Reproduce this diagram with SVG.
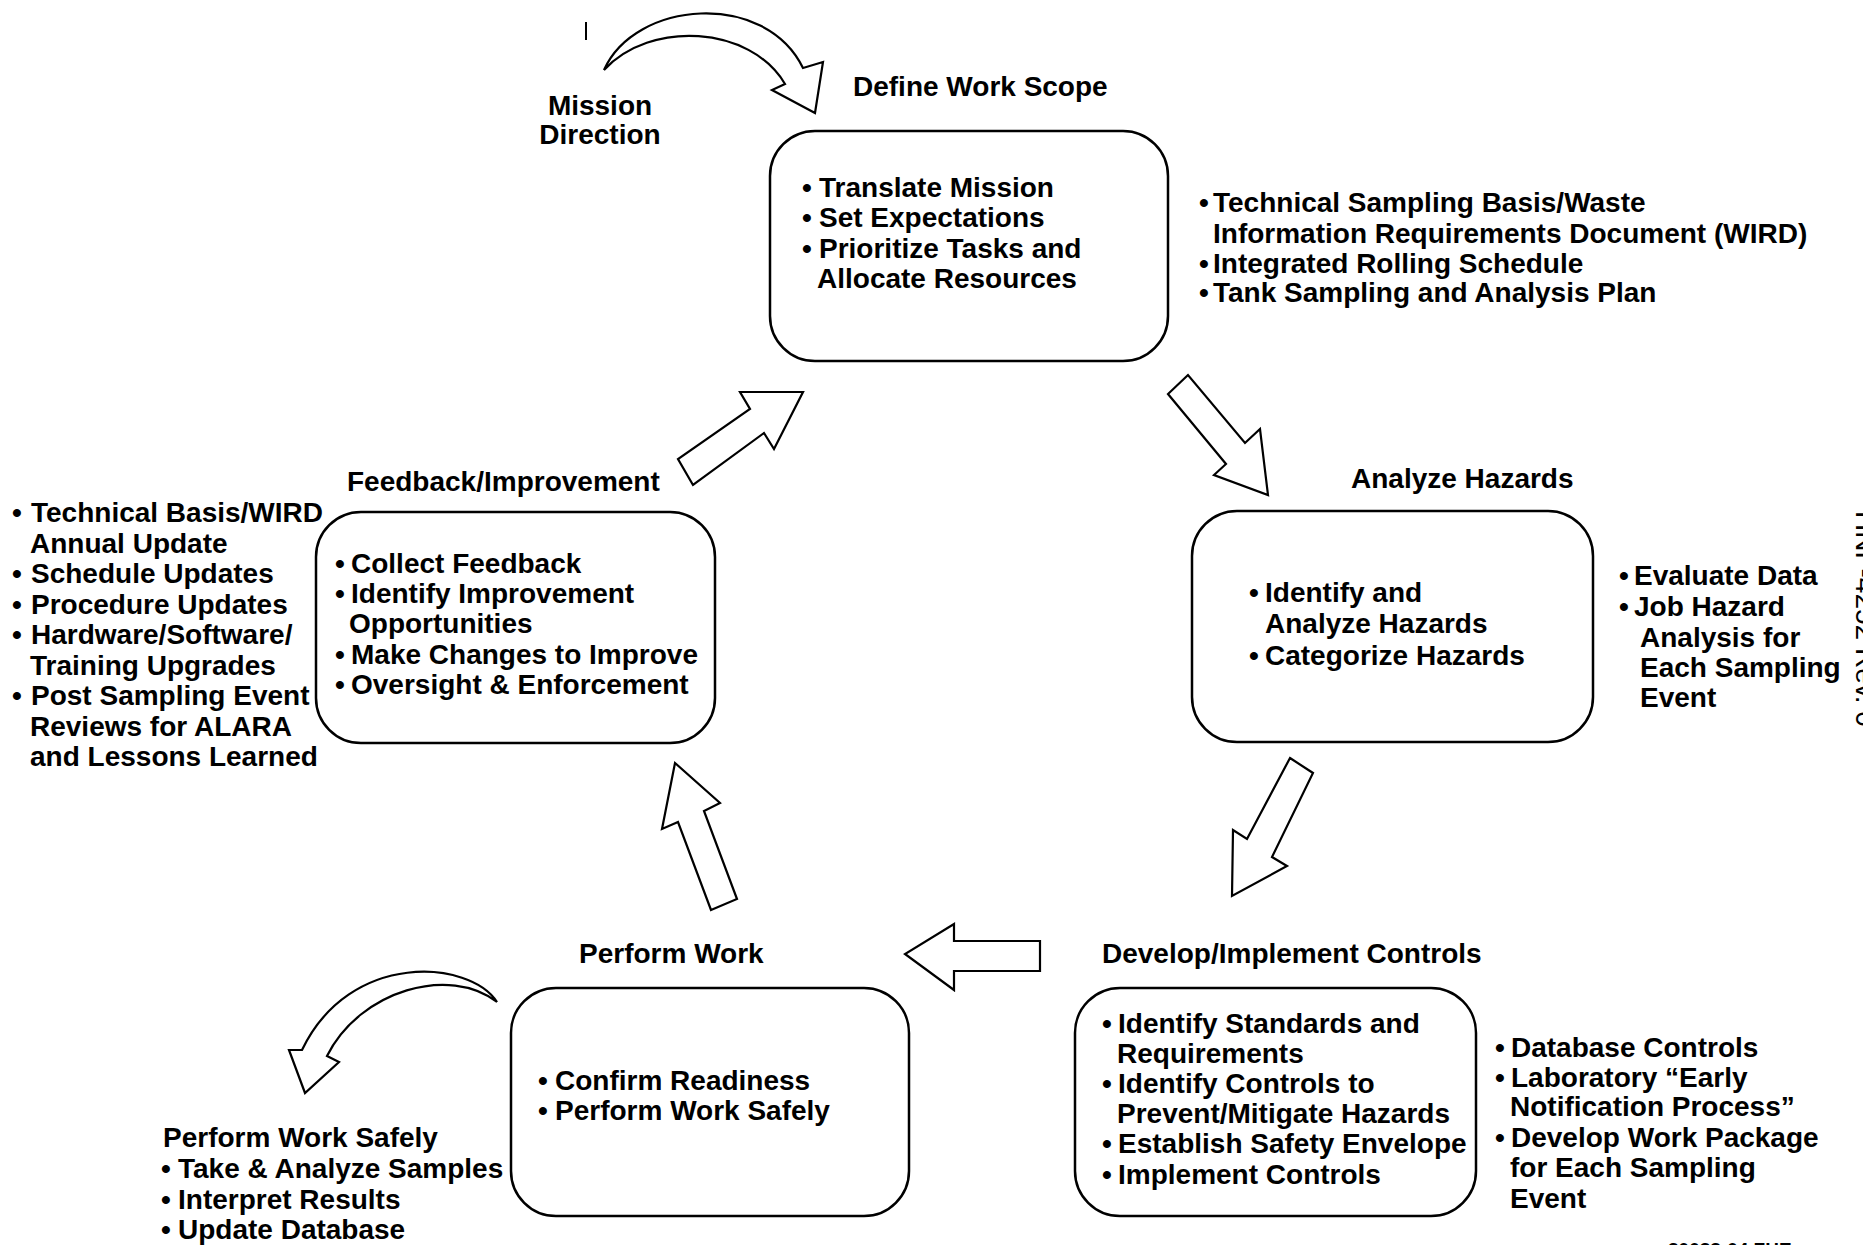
<svg xmlns="http://www.w3.org/2000/svg" width="1863" height="1245" viewBox="0 0 1863 1245">
<style>
text{font-family:"Liberation Sans",Arial,sans-serif;font-weight:bold;font-size:28px;fill:#000}
.box{fill:#fff;stroke:#000;stroke-width:2.5}
.arr{fill:#fff;stroke:#000;stroke-width:2.2;stroke-linejoin:miter}
.edge{font-weight:normal;font-size:28px}
.code{font-size:19px}
</style>
<rect width="1863" height="1245" fill="#fff"/>

<g id="connectors">
  <path class="arr" d="M604,70 C635,0 765,-10 803,68 L823,62 L815,113 L772,90 L785,84 C750,25 650,20 604,70 Z"/>
  <polygon class="arr" points="1188,375 1168,394 1226,464 1214,475 1268,495 1260,429 1245,443"/>
  <polygon class="arr" points="1290,758 1313,773 1272,857 1287,866 1232,896 1233,830 1247,839"/>
  <polygon class="arr" points="1040,941 954,941 954,924 905,954 954,990 954,971 1040,971"/>
  <polygon class="arr" points="711,910 737,899 704,811 720,803 675,763 662,829 678,822"/>
  <polygon class="arr" points="693,485 678,459 750,409 740,392 803,392 774,449 764,433"/>
  <path class="arr" d="M497,1002 C470,960 350,950 302,1050 L289,1050 L305,1093 L339,1062 L327,1056 C360,990 450,965 497,1002 Z"/>
  <line x1="586" y1="22" x2="586" y2="40" stroke="#000" stroke-width="2"/>
</g>

<g id="mission">
  <text x="600" y="115" text-anchor="middle">Mission</text>
  <text x="600" y="144" text-anchor="middle">Direction</text>
</g>

<g id="define-work-scope">
  <text x="853" y="96">Define Work Scope</text>
  <rect class="box" x="770" y="131" width="398" height="230" rx="45"/>
  <text><tspan x="802" y="197">•</tspan><tspan x="819" y="197">Translate Mission</tspan></text>
  <text><tspan x="802" y="227">•</tspan><tspan x="819" y="227">Set Expectations</tspan></text>
  <text><tspan x="802" y="258">•</tspan><tspan x="819" y="258">Prioritize Tasks and</tspan></text>
  <text x="817" y="288">Allocate Resources</text>
</g>

<g id="define-notes">
  <text><tspan x="1199" y="212">•</tspan><tspan x="1213" y="212">Technical Sampling Basis/Waste</tspan></text>
  <text x="1213" y="243">Information Requirements Document (WIRD)</text>
  <text><tspan x="1199" y="273">•</tspan><tspan x="1213" y="273">Integrated Rolling Schedule</tspan></text>
  <text><tspan x="1199" y="302">•</tspan><tspan x="1213" y="302">Tank Sampling and Analysis Plan</tspan></text>
</g>

<g id="analyze-hazards">
  <text x="1351" y="488">Analyze Hazards</text>
  <rect class="box" x="1192" y="511" width="401" height="231" rx="45"/>
  <text><tspan x="1249" y="602">•</tspan><tspan x="1265" y="602">Identify and</tspan></text>
  <text x="1265" y="633">Analyze Hazards</text>
  <text><tspan x="1249" y="665">•</tspan><tspan x="1265" y="665">Categorize Hazards</tspan></text>
</g>

<g id="analyze-notes">
  <text><tspan x="1619" y="585">•</tspan><tspan x="1634" y="585">Evaluate Data</tspan></text>
  <text><tspan x="1619" y="616">•</tspan><tspan x="1634" y="616">Job Hazard</tspan></text>
  <text x="1640" y="647">Analysis for</text>
  <text x="1640" y="677">Each Sampling</text>
  <text x="1640" y="707">Event</text>
</g>

<g id="develop-controls">
  <text x="1102" y="963">Develop/Implement Controls</text>
  <rect class="box" x="1075" y="988" width="401" height="228" rx="45"/>
  <text><tspan x="1102" y="1033">•</tspan><tspan x="1118" y="1033">Identify Standards and</tspan></text>
  <text x="1117" y="1063">Requirements</text>
  <text><tspan x="1102" y="1093">•</tspan><tspan x="1118" y="1093">Identify Controls to</tspan></text>
  <text x="1117" y="1123">Prevent/Mitigate Hazards</text>
  <text><tspan x="1102" y="1153">•</tspan><tspan x="1118" y="1153">Establish Safety Envelope</tspan></text>
  <text><tspan x="1102" y="1184">•</tspan><tspan x="1118" y="1184">Implement Controls</tspan></text>
</g>

<g id="develop-notes">
  <text><tspan x="1495" y="1057">•</tspan><tspan x="1511" y="1057">Database Controls</tspan></text>
  <text><tspan x="1495" y="1087">•</tspan><tspan x="1511" y="1087">Laboratory “Early</tspan></text>
  <text x="1510" y="1116">Notification Process”</text>
  <text><tspan x="1495" y="1147">•</tspan><tspan x="1511" y="1147">Develop Work Package</tspan></text>
  <text x="1510" y="1177">for Each Sampling</text>
  <text x="1510" y="1208">Event</text>
</g>

<g id="perform-work">
  <text x="579" y="963">Perform Work</text>
  <rect class="box" x="511" y="988" width="398" height="228" rx="45"/>
  <text><tspan x="538" y="1090">•</tspan><tspan x="555" y="1090">Confirm Readiness</tspan></text>
  <text><tspan x="538" y="1120">•</tspan><tspan x="555" y="1120">Perform Work Safely</tspan></text>
</g>

<g id="perform-notes">
  <text x="163" y="1147">Perform Work Safely</text>
  <text><tspan x="161" y="1178">•</tspan><tspan x="178" y="1178">Take &amp; Analyze Samples</tspan></text>
  <text><tspan x="161" y="1209">•</tspan><tspan x="178" y="1209">Interpret Results</tspan></text>
  <text><tspan x="161" y="1239">•</tspan><tspan x="178" y="1239">Update Database</tspan></text>
</g>

<g id="feedback-improvement">
  <text x="347" y="491">Feedback/Improvement</text>
  <rect class="box" x="316" y="512" width="399" height="231" rx="45"/>
  <text><tspan x="335" y="573">•</tspan><tspan x="351" y="573">Collect Feedback</tspan></text>
  <text><tspan x="335" y="603">•</tspan><tspan x="351" y="603">Identify Improvement</tspan></text>
  <text x="349" y="633">Opportunities</text>
  <text><tspan x="335" y="664">•</tspan><tspan x="351" y="664">Make Changes to Improve</tspan></text>
  <text><tspan x="335" y="694">•</tspan><tspan x="351" y="694">Oversight &amp; Enforcement</tspan></text>
</g>

<g id="feedback-notes">
  <text><tspan x="12" y="522">•</tspan><tspan x="31" y="522">Technical Basis/WIRD</tspan></text>
  <text x="30" y="553">Annual Update</text>
  <text><tspan x="12" y="583">•</tspan><tspan x="31" y="583">Schedule Updates</tspan></text>
  <text><tspan x="12" y="614">•</tspan><tspan x="31" y="614">Procedure Updates</tspan></text>
  <text><tspan x="12" y="644">•</tspan><tspan x="31" y="644">Hardware/Software/</tspan></text>
  <text x="30" y="675">Training Upgrades</text>
  <text><tspan x="12" y="705">•</tspan><tspan x="31" y="705">Post Sampling Event</tspan></text>
  <text x="30" y="736">Reviews for ALARA</text>
  <text x="30" y="766">and Lessons Learned</text>
</g>

<g id="doc-marks">
  <text class="edge" transform="translate(1856,511) rotate(90)">HNF-4252 Rev. 0</text>
  <text class="code" x="1668" y="1256">30033-04.FHE</text>
</g>
</svg>
